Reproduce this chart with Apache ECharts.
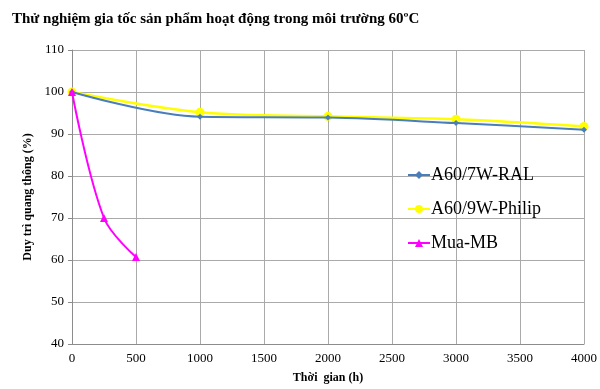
<!DOCTYPE html>
<html><head><meta charset="utf-8">
<script src="https://cdn.jsdelivr.net/npm/echarts@6/dist/echarts.min.js"></script>
<style>html,body{margin:0;padding:0;background:#fff}#c{width:600px;height:389px}</style>
</head><body><div id="c"></div>
<script>
var titleText = 'Thử nghiệm gia tốc sản phẩm hoạt động trong môi trường 60ºC';
var xName = 'Thời  gian (h)';
var yName = 'Duy trì quang thông (%)';
var seriesNames = ['A60/7W-RAL', 'A60/9W-Philip', 'Mua-MB'];
var ralX = [0, 1000, 2000, 3000, 4000];
var ralY = [100, 94.1, 93.9, 92.6, 91.0];
var philipX = [0, 1000, 2000, 3000, 4000];
var philipY = [100, 95.2, 94.2, 93.5, 91.8];
var mbX = [0, 250, 500];
var mbY = [100, 70, 60.7];

function pairs(xs, ys){ return xs.map(function(x,i){return [x, ys[i]];}); }
var font = 'Liberation Serif, Times New Roman, serif';
var chart = echarts.init(document.getElementById('c'), null, {renderer:'canvas'});
chart.setOption({
  animation:false,
  backgroundColor:'#fff',
  title:{text:titleText, left:7, top:7, textStyle:{fontFamily:font, fontSize:15, fontWeight:'bold', color:'#000'}},
  grid:{left:72, right:15, top:50, bottom:41},
  legend:{orient:'vertical', left:402, top:161, itemGap:16, itemWidth:22, itemHeight:10,
    textStyle:{fontFamily:font, fontSize:18, color:'#000', padding:[0,0,0,-4]},
    data:seriesNames},
  xAxis:{type:'value', min:0, max:4000, interval:500, name:xName, nameLocation:'middle', nameGap:28,
    nameTextStyle:{fontFamily:font, fontSize:12, fontWeight:'bold', color:'#000'},
    axisLine:{lineStyle:{color:'#8c8c8c'}}, axisTick:{show:false},
    axisLabel:{fontFamily:font, fontSize:13, color:'#000', margin:8, formatter:function(v){return String(v);}},
    splitLine:{lineStyle:{color:'#aaaaaa'}}},
  yAxis:{type:'value', min:40, max:110, interval:10, name:yName, nameLocation:'middle', nameGap:38,
    nameTextStyle:{fontFamily:font, fontSize:12, fontWeight:'bold', color:'#000'},
    axisLine:{show:true, lineStyle:{color:'#8c8c8c'}}, axisTick:{show:true, length:4, lineStyle:{color:'#8c8c8c'}},
    axisLabel:{fontFamily:font, fontSize:13, color:'#000', margin:8},
    splitLine:{lineStyle:{color:'#aaaaaa'}}},
  series:[
    {name:seriesNames[0], type:'line', smooth:0.35, data:pairs(ralX, ralY), symbol:'diamond', symbolSize:6,
      lineStyle:{color:'#4a7ebb', width:2}, itemStyle:{color:'#4a7ebb'}, z:3},
    {name:seriesNames[1], type:'line', smooth:0.35, data:pairs(philipX, philipY), symbol:'circle', symbolSize:9,
      lineStyle:{color:'#ffff00', width:2.5}, itemStyle:{color:'#ffff00'}, z:2},
    {name:seriesNames[2], type:'line', smooth:0.35, data:pairs(mbX, mbY), symbol:'triangle', symbolSize:8,
      lineStyle:{color:'#ff00ff', width:2}, itemStyle:{color:'#ff00ff'}, z:4}
  ]
});
</script></body></html>
